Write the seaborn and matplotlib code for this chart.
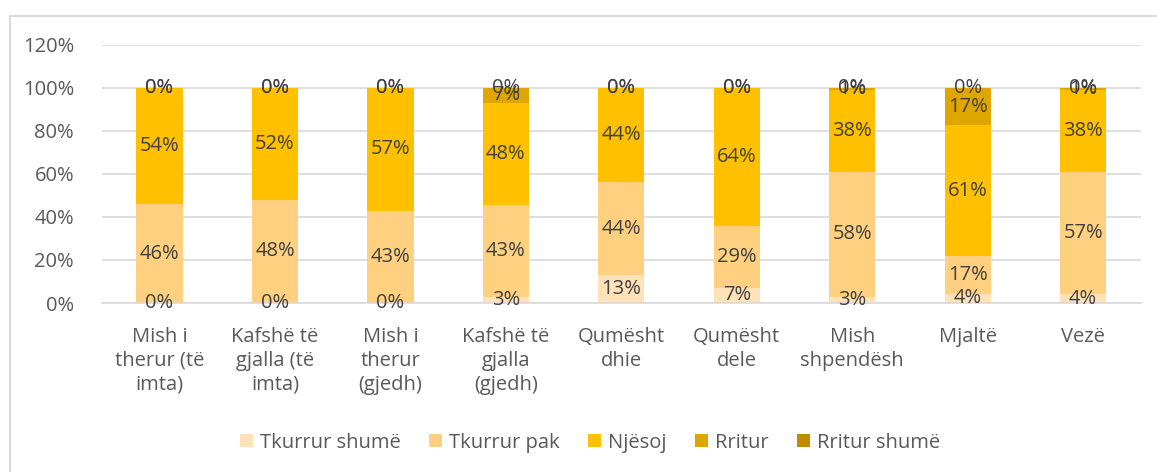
import matplotlib
matplotlib.use("Agg")
import matplotlib.pyplot as plt
import seaborn as sns
import numpy as np
from matplotlib.patches import Rectangle
from matplotlib.ticker import PercentFormatter

categories = ["Mish i\ntherur (të\nimta)", "Kafshë të\ngjalla (të\nimta)", "Mish i\ntherur\n(gjedh)",
              "Kafshë të\ngjalla\n(gjedh)", "Qumësht\ndhie", "Qumësht\ndele", "Mish\nshpendësh",
              "Mjaltë", "Vezë"]
tkurrur_shume = [0, 0, 0, 2.8, 12.8, 7, 3, 4.3, 4]
tkurrur_pak = [46, 48, 43, 42.6, 43.6, 29, 58, 17.4, 57]
njesoj = [54, 52, 57, 47.6, 43.6, 64, 38, 60.9, 38]
rritur = [0, 0, 0, 7, 0, 0, 1, 17.4, 1]
rritur_shume = [0, 0, 0, 0, 0, 0, 0, 0, 0]

series = ["Tkurrur shumë", "Tkurrur pak", "Njësoj", "Rritur", "Rritur shumë"]
values = [tkurrur_shume, tkurrur_pak, njesoj, rritur, rritur_shume]
colors = ["#FFE2B8", "#FFD07F", "#FFC000", "#E0A600", "#BF8C00"]

sns.set_style("white")
plt.rcParams["font.family"] = ["Open Sans", "DejaVu Sans"]

fig = plt.figure(figsize=(11.57, 4.72), dpi=100)
ax = fig.add_axes([0.088, 0.358, 0.898, 0.547])

# stacked bars, one barplot call per series
bottom = np.zeros(len(categories))
for name, vals, col in zip(series, values, colors):
    sns.barplot(x=categories, y=vals, bottom=bottom, color=col, width=0.4,
                label=name, ax=ax, saturation=1, linewidth=0)
    bottom = bottom + np.array(vals)

handles, labels = ax.get_legend_handles_labels()
if ax.get_legend() is not None:
    ax.get_legend().remove()

for cont, vals in zip(ax.containers, values):
    ax.bar_label(cont, labels=[f"{round(v)}%" for v in vals], label_type="center",
                 fontsize=14.5, color="#404040")

ax.set_ylim(0, 120)
ax.set_yticks(range(0, 121, 20))
ax.yaxis.set_major_formatter(PercentFormatter(decimals=0))
ax.grid(axis="y", color="#D9D9D9", linewidth=1.2)
ax.set_axisbelow(True)
for s in ["top", "right", "left"]:
    ax.spines[s].set_visible(False)
ax.spines["bottom"].set_color("#D9D9D9")
ax.spines["bottom"].set_linewidth(1.2)
ax.tick_params(axis="both", length=0, labelsize=14.5, colors="#595959")
ax.tick_params(axis="x", pad=17)
ax.tick_params(axis="y", pad=20)
for lab in ax.get_xticklabels():
    lab.set_linespacing(1.27)
ax.set_xlabel("")
ax.set_ylabel("")

fig.legend(handles, labels, loc="center", bbox_to_anchor=(0.51, 0.062), ncol=5,
           frameon=False, fontsize=14.5, labelcolor="#595959", handlelength=0.65,
           handleheight=0.65, handletextpad=0.35, columnspacing=1.4)

# light chart-area border (right and bottom edges cropped like the reference)
fig.patches.append(Rectangle((10 / 1157, -0.1), 1.2, 1 - 16 / 472 + 0.1,
                             transform=fig.transFigure, fill=False,
                             edgecolor="#D9D9D9", linewidth=1.5))

fig.savefig("out.png", dpi=100)
